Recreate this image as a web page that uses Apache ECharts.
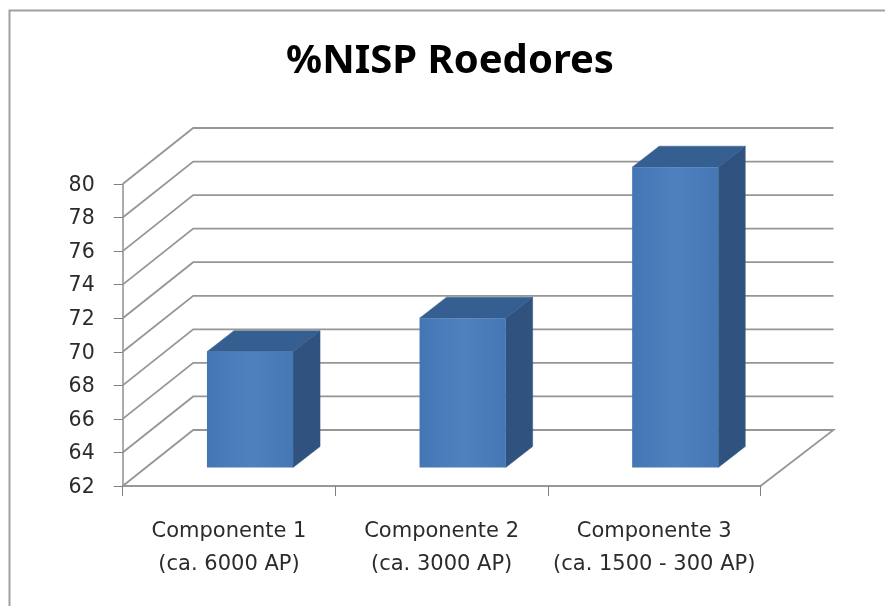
<!DOCTYPE html>
<html>
<head>
<meta charset="utf-8">
<style>
  html, body { margin: 0; padding: 0; background: #fff; }
  #chart { width: 885px; height: 606px; }
</style>
<script src="https://cdn.jsdelivr.net/npm/echarts@6/dist/echarts.min.js"></script>
</head>
<body>
<div id="chart"></div>
<script>
const categories = ['Componente 1\n(ca. 6000 AP)', 'Componente 2\n(ca. 3000 AP)', 'Componente 3\n(ca. 1500 - 300 AP)']
const values = [68.9, 70.9, 79.9]
const yTicks = [62, 64, 66, 68, 70, 72, 74, 76, 78, 80]

// fake 3D offsets, pixels
const WALL_DX = 70.5
const WALL_RIGHT_DX = 73
const WALL_DY = -56
const BAR_DX = 21
const BAR_DY = -18.5
const BAR_DEPTH_X = 27
const BAR_DEPTH_Y = -21

const LINE_COLOR = '#969696'
const TEXT_COLOR = '#2b2b2b'
const FONT = '"DejaVu Sans", sans-serif'
const TITLE_FONT = '"Noto Sans", sans-serif'

function renderWall(params, api) {
  const rect = params.coordSys
  const y = api.coord([0, api.value(1)])[1]
  const left = rect.x
  const right = rect.x + rect.width
  const style = { stroke: LINE_COLOR, lineWidth: 1.8, fill: null }
  const points = [
    [left, y],
    [left + WALL_DX, y + WALL_DY],
    [right + WALL_RIGHT_DX, y + WALL_DY],
  ]
  // the floor also closes on the right
  if (api.value(1) === yTicks[0]) points.push([right, y])
  return { type: 'polyline', shape: { points }, style }
}

function renderBar(params, api) {
  const idx = api.value(0)
  const top = api.coord([idx, api.value(1)])
  const base = api.coord([idx, yTicks[0]])
  const w = api.size([1, 0])[0] * 0.405
  const x0 = top[0] - w / 2 + BAR_DX
  const x1 = x0 + w
  const yTop = top[1] + BAR_DY
  const yBase = base[1] + BAR_DY
  const dx = BAR_DEPTH_X
  const dy = BAR_DEPTH_Y
  return {
    type: 'group',
    children: [
      {
        type: 'polygon',
        shape: { points: [[x1, yTop], [x1 + dx, yTop + dy], [x1 + dx, yBase + dy], [x1, yBase]] },
        style: { fill: '#30527f', stroke: '#30527f', lineWidth: 0.5 },
      },
      {
        type: 'polygon',
        shape: { points: [[x0, yTop], [x0 + dx, yTop + dy], [x1 + dx, yTop + dy], [x1, yTop]] },
        style: { fill: '#355f90', stroke: '#355f90', lineWidth: 0.5 },
      },
      {
        type: 'rect',
        shape: { x: x0, y: yTop, width: w, height: yBase - yTop },
        style: {
          fill: new echarts.graphic.LinearGradient(0, 0, 1, 0, [
            { offset: 0, color: '#4475b4' },
            { offset: 0.5, color: '#4f81bf' },
            { offset: 1, color: '#4677b5' },
          ]),
        },
      },
    ],
  }
}

const chart = echarts.init(document.getElementById('chart'))
chart.setOption({
  animation: false,
  backgroundColor: '#fff',
  title: {
    text: '%NISP Roedores',
    left: 445,
    top: 37,
    textAlign: 'center',
    textStyle: { fontFamily: TITLE_FONT, fontSize: 40, fontWeight: 'bold', color: '#000' },
  },
  graphic: [
    {
      type: 'polyline',
      shape: { points: [[9.5, 606], [9.5, 10.5], [885, 10.5]] },
      style: { stroke: '#a0a0a0', lineWidth: 2, fill: null },
    },
  ],
  grid: { left: 122.7, right: 124.5, top: 184, height: 302 },
  xAxis: {
    type: 'category',
    data: categories,
    axisLine: { lineStyle: { color: '#989898', width: 2 } },
    axisTick: { show: true, interval: 0, length: 10, lineStyle: { color: '#808080', width: 1 } },
    axisLabel: { interval: 0, color: TEXT_COLOR, fontFamily: FONT, fontSize: 21, lineHeight: 33, margin: 29 },
  },
  yAxis: {
    type: 'value',
    min: yTicks[0],
    max: yTicks[yTicks.length - 1],
    interval: 2,
    axisLine: { show: true, lineStyle: { color: '#8f8f8f', width: 1.5 } },
    axisTick: { show: true, length: 9, lineStyle: { color: '#808080', width: 1 } },
    splitLine: { show: false },
    axisLabel: {
      color: TEXT_COLOR,
      fontFamily: FONT,
      fontSize: 20.5,
      margin: 28,
      verticalAlign: 'top',
      lineHeight: 3,
      showMinLabel: true,
      showMaxLabel: true,
      hideOverlap: false,
    },
  },
  series: [
    {
      type: 'custom',
      silent: true,
      clip: false,
      z: 1,
      renderItem: renderWall,
      data: yTicks.map((t) => [0, t]),
      encode: { x: 0, y: 1 },
    },
    {
      type: 'custom',
      clip: false,
      z: 2,
      renderItem: renderBar,
      data: values.map((v, i) => [i, v]),
      encode: { x: 0, y: 1 },
    },
  ],
})
</script>
</body>
</html>
